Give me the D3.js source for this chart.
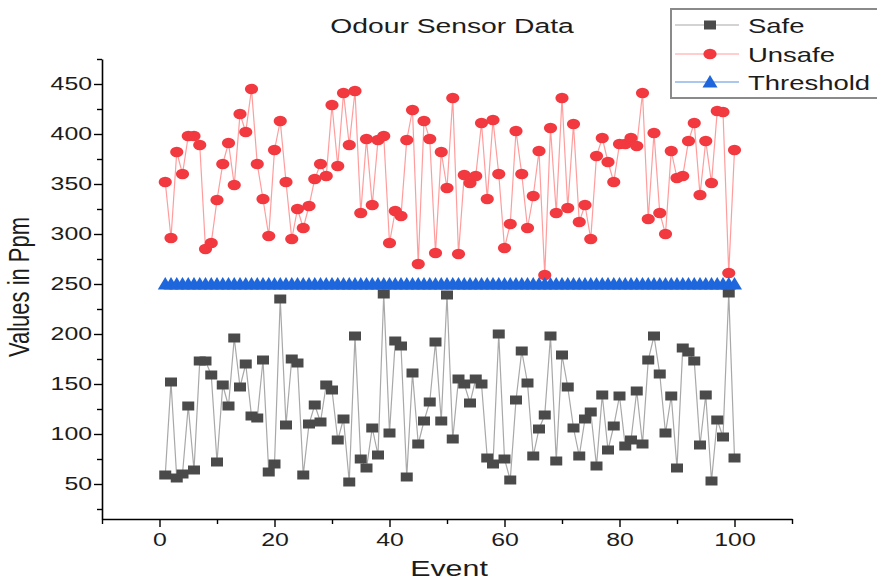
<!DOCTYPE html>
<html>
<head>
<meta charset="utf-8">
<script src="https://cdnjs.cloudflare.com/ajax/libs/d3/7.8.5/d3.min.js"></script>
<style>
  body { margin: 0; background: #ffffff; }
  svg { display: block; font-family: "Liberation Sans", Arial, sans-serif; }
</style>
</head>
<body>
<div id="chart-container"></div>
<script>
// data, one value per event (1..100)
const safe = [
  59, 152, 56, 60, 128, 64, 173, 173, 159, 72,
  149, 128, 196, 147, 170, 118, 116, 174, 62, 70,
  235, 109, 175, 171, 59, 110, 129, 112, 149, 144,
  94, 115, 52, 198, 75, 66, 106, 79, 240, 101,
  193, 188, 57, 161, 90, 113, 132, 192, 113, 239,
  95, 155, 150, 131, 155, 150, 76, 70, 200, 75,
  54, 134, 183, 151, 78, 105, 119, 198, 73, 179,
  147, 106, 78, 115, 122, 68, 139, 84, 108, 138,
  88, 94, 143, 90, 174, 198, 160, 101, 138, 66,
  186, 182, 173, 89, 139, 53, 114, 97, 241, 76
];
const unsafe = [
  352, 296, 382, 360, 398, 398, 389, 285, 291, 334,
  370, 391, 349, 420, 402, 445, 370, 335, 298, 384,
  413, 352, 295, 325, 306, 328, 355, 370, 358, 429,
  368, 441, 389, 443, 321, 395, 329, 394, 398, 291,
  323, 318, 394, 424, 270, 413, 395, 281, 382, 346,
  436, 280, 359, 351, 358, 411, 335, 414, 360, 286,
  310, 403, 360, 306, 338, 383, 259, 406, 321, 436,
  326, 410, 312, 329, 295, 378, 396, 372, 352, 390,
  390, 396, 388, 441, 315, 401, 321, 300, 383, 356,
  358, 393, 411, 339, 393, 351, 423, 422, 261, 384
];
const threshold = [
  250, 250, 250, 250, 250, 250, 250, 250, 250, 250,
  250, 250, 250, 250, 250, 250, 250, 250, 250, 250,
  250, 250, 250, 250, 250, 250, 250, 250, 250, 250,
  250, 250, 250, 250, 250, 250, 250, 250, 250, 250,
  250, 250, 250, 250, 250, 250, 250, 250, 250, 250,
  250, 250, 250, 250, 250, 250, 250, 250, 250, 250,
  250, 250, 250, 250, 250, 250, 250, 250, 250, 250,
  250, 250, 250, 250, 250, 250, 250, 250, 250, 250,
  250, 250, 250, 250, 250, 250, 250, 250, 250, 250,
  250, 250, 250, 250, 250, 250, 250, 250, 250, 250
];
const xTicks = [0, 20, 40, 60, 80, 100];
const xMinorTicks = [-10, 10, 30, 50, 70, 90, 110];
const yTicks = [50, 100, 150, 200, 250, 300, 350, 400, 450];
const yMinorTicks = [25, 75, 125, 175, 225, 275, 325, 375, 425, 475];

{ // start block scope

  const color = {
    safe: '#4a4a4a',
    safeLine: '#a8a8a8',
    unsafe: '#f2393f',
    unsafeLine: '#ff9d9d',
    threshold: '#1d66dc',
    thresholdLine: '#5b8fe0',
    text: '#1c1c1c'
  };

  // constants
  const totalWidth = 877;
  const totalHeight = 581;
  const sx = 1.38; // the picture is stretched sideways

  const svg = d3.select('#chart-container')
    .append('svg')
    .attr('width', totalWidth)
    .attr('height', totalHeight)
    .attr('viewBox', `0 0 ${totalWidth} ${totalHeight}`);

  svg.append('rect')
    .attr('width', totalWidth)
    .attr('height', totalHeight)
    .attr('fill', '#ffffff');

  // scales
  const xScale = d3.scaleLinear().domain([-10, 110]).range([102, 792]);
  const yScale = d3.scaleLinear().domain([15, 475]).range([519, 59]);

  function stretchedText(parent, x, y, str, size, anchor, stretch) {
    return parent.append('text')
      .attr('transform', `translate(${x}, ${y}) scale(${stretch || sx}, 1)`)
      .attr('text-anchor', anchor || 'middle')
      .attr('font-size', size)
      .attr('fill', color.text)
      .text(str);
  }

  // x axis
  const xAxisGroup = svg.append('g')
    .attr('transform', `translate(0, ${yScale(15)})`)
    .call(d3.axisBottom(xScale).tickValues(xTicks).tickSize(8).tickSizeOuter(0).tickPadding(6));
  xAxisGroup.select('.domain').attr('stroke-width', 1.6);
  xAxisGroup.selectAll('.tick line').attr('stroke-width', 1.4);
  xAxisGroup.selectAll('.tick text')
    .attr('font-size', 18)
    .attr('fill', color.text)
    .attr('font-family', '"Liberation Sans", Arial, sans-serif')
    .attr('transform', `scale(${sx}, 1)`);
  svg.append('g')
    .attr('transform', `translate(0, ${yScale(15)})`)
    .call(d3.axisBottom(xScale).tickValues(xMinorTicks).tickSize(5).tickSizeOuter(0).tickFormat(''))
    .call(g => g.select('.domain').remove())
    .selectAll('.tick line').attr('stroke-width', 1.4);

  // y axis
  const yAxisGroup = svg.append('g')
    .attr('transform', `translate(${xScale(-10)}, 0)`)
    .call(d3.axisLeft(yScale).tickValues(yTicks).tickSize(8).tickSizeOuter(0).tickPadding(3));
  yAxisGroup.select('.domain').attr('stroke-width', 1.6);
  yAxisGroup.selectAll('.tick line').attr('stroke-width', 1.4);
  yAxisGroup.selectAll('.tick text')
    .attr('font-size', 18)
    .attr('fill', color.text)
    .attr('font-family', '"Liberation Sans", Arial, sans-serif')
    .attr('x', -10 / sx)
    .attr('transform', `scale(${sx}, 1)`);
  svg.append('g')
    .attr('transform', `translate(${xScale(-10)}, 0)`)
    .call(d3.axisLeft(yScale).tickValues(yMinorTicks).tickSize(5).tickSizeOuter(0).tickFormat(''))
    .call(g => g.select('.domain').remove())
    .selectAll('.tick line').attr('stroke-width', 1.4);

  // titles
  stretchedText(svg, 452, 33, 'Odour Sensor Data', 20.5);
  stretchedText(svg, 449, 576, 'Event', 22);
  svg.append('text')
    .attr('transform', `translate(29, 287) rotate(-90) scale(1, ${sx})`)
    .attr('text-anchor', 'middle')
    .attr('font-size', 22)
    .attr('fill', color.text)
    .text('Values in Ppm');

  // marker shapes
  const squarePath = 'M-6,-4.5H6V4.5H-6Z';
  const trianglePath = 'M-7.5,5.5L7.5,5.5L0,-7Z';

  function addSeries(values, lineColor, drawMarker) {
    const pts = values.map((v, i) => [xScale(i + 1), yScale(v)]);
    svg.append('path')
      .attr('d', d3.line()(pts))
      .attr('fill', 'none')
      .attr('stroke', lineColor)
      .attr('stroke-width', 1.2);
    const g = svg.append('g');
    pts.forEach(p => drawMarker(g, p[0], p[1]));
  }

  function drawSquare(g, x, y) {
    g.append('path').attr('d', squarePath)
      .attr('transform', `translate(${x}, ${y})`)
      .attr('fill', color.safe);
  }
  function drawCircle(g, x, y) {
    g.append('ellipse').attr('cx', x).attr('cy', y)
      .attr('rx', 6.6).attr('ry', 5.2)
      .attr('fill', color.unsafe);
  }
  function drawTriangle(g, x, y) {
    g.append('path').attr('d', trianglePath)
      .attr('transform', `translate(${x}, ${y})`)
      .attr('fill', color.threshold);
  }

  addSeries(safe, color.safeLine, drawSquare);
  addSeries(unsafe, color.unsafeLine, drawCircle);
  addSeries(threshold, color.thresholdLine, drawTriangle);

  // legend
  const legend = svg.append('g');
  legend.append('rect')
    .attr('x', 671).attr('y', 9)
    .attr('width', 220).attr('height', 89)
    .attr('fill', '#ffffff')
    .attr('stroke', '#8a8a8a')
    .attr('stroke-width', 2);
  const legendItems = [
    { name: 'Safe', line: color.safeLine, marker: drawSquare, y: 25 },
    { name: 'Unsafe', line: color.unsafeLine, marker: drawCircle, y: 54 },
    { name: 'Threshold', line: color.thresholdLine, marker: drawTriangle, y: 82 }
  ];
  legendItems.forEach(item => {
    legend.append('line')
      .attr('x1', 675).attr('x2', 739)
      .attr('y1', item.y).attr('y2', item.y)
      .attr('stroke', item.line)
      .attr('stroke-width', 1.2);
    item.marker(legend, 710, item.y);
    stretchedText(legend, 748, item.y + 7.5, item.name, 20.5, 'start', 1.34);
  });

} // end block scope
</script>
</body>
</html>
